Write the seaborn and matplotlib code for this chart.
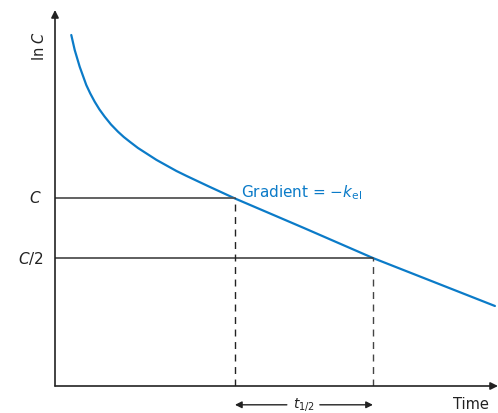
import numpy as np
import pandas as pd
import seaborn as sns
import matplotlib
matplotlib.use('Agg')
import matplotlib.pyplot as plt

# Curva ln C frente al tiempo (unidades arbitrarias)
tiempo = [0.370, 0.448, 0.561, 0.711, 0.802, 0.902, 1.011, 1.130, 1.273, 1.432, 1.564,
          1.705, 1.886, 2.084, 2.307, 2.539, 2.761, 2.993, 3.484, 4.091, 5.659, 7.227, 10.0]
ln_c = [9.335, 8.936, 8.492, 8.005, 7.779, 7.561, 7.354, 7.162, 6.955, 6.763, 6.622,
        6.492, 6.330, 6.181, 6.013, 5.862, 5.718, 5.585, 5.314, 4.987, 4.202, 3.404, 2.128]

# Niveles C y C/2 y tiempos correspondientes
nivel_c = 4.987
nivel_c2 = 3.404
t_c = 4.091
t_c2 = 7.227

azul = '#0b7bc8'

sns.set_theme(style='white')
plt.rcParams['font.family'] = ['DejaVu Sans']
plt.rcParams['mathtext.fontset'] = 'dejavusans'

df = pd.DataFrame({'Tiempo': tiempo, 'lnC': ln_c})

fig = plt.figure(figsize=(4.98, 4.13), dpi=100)
ax = fig.add_axes([55 / 498, 27 / 413, 443 / 498, 376 / 413])

sns.lineplot(data=df, x='Tiempo', y='lnC', ax=ax, color=azul, linewidth=1.6)

# lineas horizontales en C y C/2
ax.plot([0, t_c], [nivel_c, nivel_c], color='#555555', lw=1.3)
ax.plot([0, t_c2], [nivel_c2, nivel_c2], color='#333333', lw=1.1)

# lineas discontinuas verticales
ax.plot([t_c, t_c], [0, nivel_c], color='#222222', lw=1.0, dashes=(5, 4))
ax.plot([t_c2, t_c2], [0, nivel_c2], color='#444444', lw=1.0, dashes=(5, 4))

ax.set_xlim(0, 10.07)
ax.set_ylim(0, 10)
ax.set_xticks([])
ax.set_yticks([])
ax.set_xlabel('')
ax.set_ylabel('')
for s in ax.spines.values():
    s.set_visible(False)

# ejes con flechas
flecha = dict(arrowstyle='-|>', color='#222222', lw=1.2, mutation_scale=11, shrinkA=0, shrinkB=0)
ax.annotate('', xy=(0, 1), xytext=(0, 0), xycoords='axes fraction', arrowprops=flecha, annotation_clip=False)
ax.annotate('', xy=(1, 0), xytext=(0, 0), xycoords='axes fraction', arrowprops=flecha, annotation_clip=False)

# etiquetas
ax.text(-0.36, 9.04, r'ln $C$', rotation=90, ha='center', va='center', fontsize=10.5, color='#222222')
ax.text(-0.3, nivel_c, r'$C$', ha='right', va='center', fontsize=11, color='#222222')
ax.text(-0.27, nivel_c2, r'$C$/2', ha='right', va='center', fontsize=11, color='#222222')
ax.text(4.22, 5.13, r'Gradient = $-k_{\mathrm{el}}$', ha='left', va='center', fontsize=11, color=azul)
ax.text(9.45, -0.48, 'Time', ha='center', va='center', fontsize=10.5, color='#222222')

# flecha de t1/2
y_t = -0.5
ax.text((t_c + t_c2) / 2, y_t, r'$t_{1/2}$', ha='center', va='center', fontsize=10, color='#222222')
flecha2 = dict(arrowstyle='-|>', color='#222222', lw=1.0, mutation_scale=10, shrinkA=0, shrinkB=0)
ax.annotate('', xy=(t_c, y_t), xytext=(5.27, y_t), arrowprops=flecha2, annotation_clip=False)
ax.annotate('', xy=(t_c2, y_t), xytext=(6.02, y_t), arrowprops=flecha2, annotation_clip=False)

plt.savefig('out.png', dpi=100)
